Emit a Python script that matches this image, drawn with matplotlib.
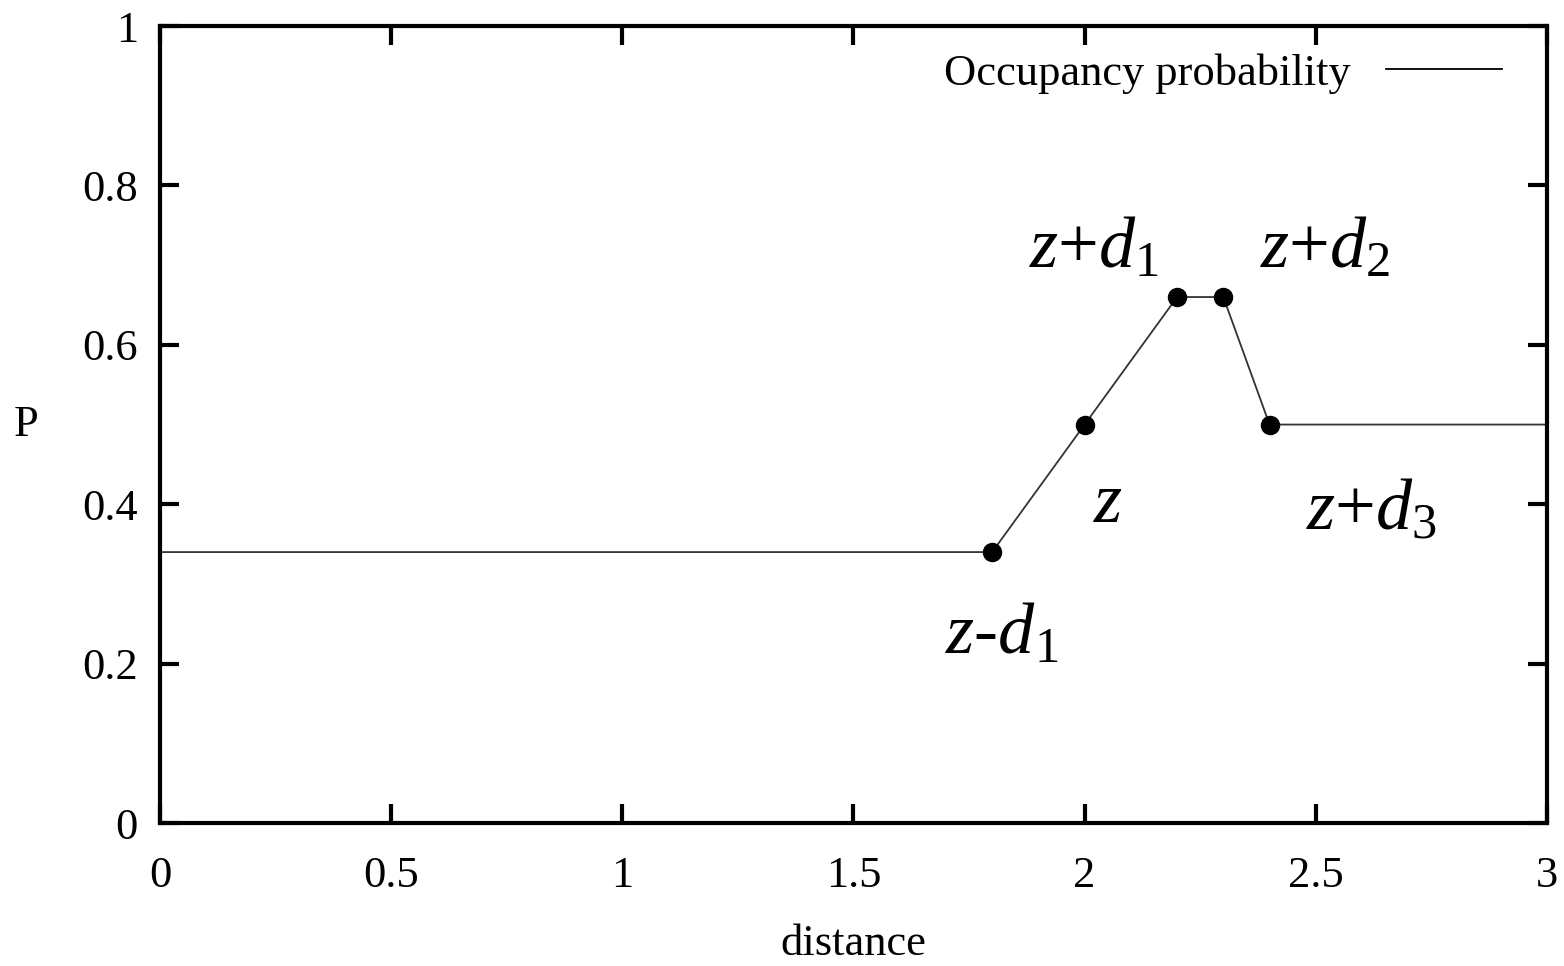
import matplotlib
matplotlib.use("Agg")
import matplotlib.pyplot as plt

plt.rcParams['font.family'] = ['Liberation Serif', 'DejaVu Serif']
plt.rcParams['mathtext.fontset'] = 'custom'
plt.rcParams['mathtext.rm'] = 'Liberation Serif'
plt.rcParams['mathtext.it'] = 'Liberation Serif:italic'

# occupancy probability profile
dist = [0.0, 1.8, 2.0, 2.2, 2.3, 2.4, 3.0]
prob = [0.34, 0.34, 0.5, 0.66, 0.66, 0.5, 0.5]
marked = [1, 2, 3, 4, 5]

xticks = [0, 0.5, 1, 1.5, 2, 2.5, 3]
xticklabels = ['0', '0.5', '1', '1.5', '2', '2.5', '3']
yticks = [0, 0.2, 0.4, 0.6, 0.8, 1]
yticklabels = ['0', '0.2', '0.4', '0.6', '0.8', '1']

# annotation labels and where they sit
labels = [r'$\mathit{z}$+$\mathit{d}_{\mathit{1}}$',
          r'$\mathit{z}$+$\mathit{d}_{\mathit{2}}$',
          r'$\mathit{z}$',
          r'$\mathit{z}$+$\mathit{d}_{\mathit{3}}$',
          r'$\mathit{z}$-$\mathit{d}_{\mathit{1}}$']
label_x = [2.02, 2.52, 2.05, 2.62, 1.82]
label_y = [0.72, 0.72, 0.40, 0.39, 0.235]

fig = plt.figure(figsize=(15.64, 9.66), dpi=100)
ax = fig.add_axes([0.1023, 0.148, 0.8868, 0.825])

ax.plot(dist, prob, color='#333333', lw=1.3, label='Occupancy probability')
ax.plot([dist[i] for i in marked], [prob[i] for i in marked], 'o',
        color='black', ms=13, zorder=3)

for s, tx, ty in zip(labels, label_x, label_y):
    ax.text(tx, ty, s, fontsize=52, ha='center', va='center')

ax.set_xlim(0, 3)
ax.set_ylim(0, 1)
ax.set_xticks(xticks)
ax.set_xticklabels(xticklabels)
ax.set_yticks(yticks)
ax.set_yticklabels(yticklabels)
ax.tick_params(direction='in', length=14, width=3, labelsize=32,
               top=True, right=True)
ax.tick_params(axis='x', pad=24)
ax.tick_params(axis='y', pad=16)
for sp in ax.spines.values():
    sp.set_linewidth(3)

ax.set_xlabel('distance', fontsize=32, labelpad=20)
ax.set_ylabel('P', fontsize=32, rotation=0, labelpad=40, va='center')

leg = ax.legend(loc='upper right', frameon=False, markerfirst=False,
                fontsize=32, handlelength=2.6, borderaxespad=0.3,
                bbox_to_anchor=(0.99, 1.005))
leg.get_lines()[0].set_color('black')

fig.savefig('out.png', dpi=100)
